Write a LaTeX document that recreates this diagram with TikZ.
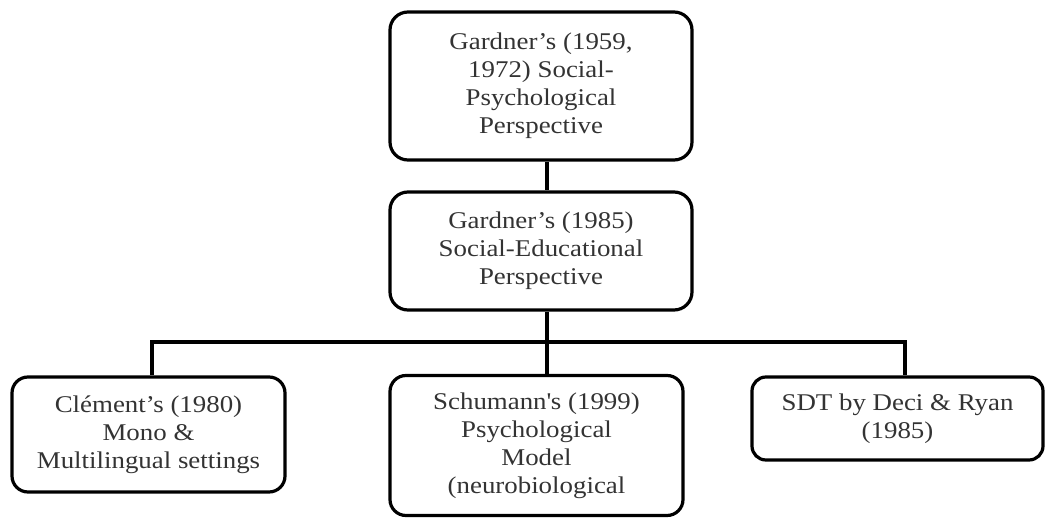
\documentclass[tikz,border=0pt]{standalone}
\usepackage{fontspec}
\setmainfont{Liberation Serif}[FakeStretch=1.12]
\begin{document}
\begin{tikzpicture}[x=1pt,y=-1pt,
  box/.style={draw=black, line width=3.2pt, rounded corners=18pt, align=center,
    inner sep=0pt, text=black!80,
    font=\fontsize{24}{28}\selectfont},
  link/.style={draw=black, line width=3.4pt}]
\useasboundingbox (0,0) rectangle (1045,519);
\node[box, minimum width=302pt, minimum height=148pt] (top) at (541,86)
  {Gardner's (1959,\\1972) Social-\\Psychological\\Perspective};
\node[box, minimum width=302pt, minimum height=118pt] (mid) at (541,251)
  {Gardner's (1985)\\Social-Educational\\Perspective};
\node[box, minimum width=273pt, minimum height=115pt, rounded corners=16pt] (cle) at (148.5,434.5)
  {Clément's (1980)\\Mono \&\\Multilingual settings};
\node[box, minimum width=293pt, minimum height=140pt, rounded corners=16pt] (sch) at (536.5,445.5)
  {Schumann\textquotesingle s (1999)\\Psychological\\Model\\(neurobiological};
\node[box, minimum width=291pt, minimum height=83pt, rounded corners=14pt] (sdt) at (897.5,418.5)
  {SDT by Deci \& Ryan\\(1985)};
\coordinate (bar) at (547,342);
\coordinate (bl) at (152,342);
\coordinate (br) at (905,342);
\draw[link] (top.south -| bar) -- (mid.north -| bar);
\draw[link] (mid.south -| bar) -- (bar);
\draw[link] (cle.north -| bl) -- (bl) -- (br) -- (sdt.north -| br);
\draw[link] (bar) -- (sch.north -| bar);
\end{tikzpicture}
\end{document}
